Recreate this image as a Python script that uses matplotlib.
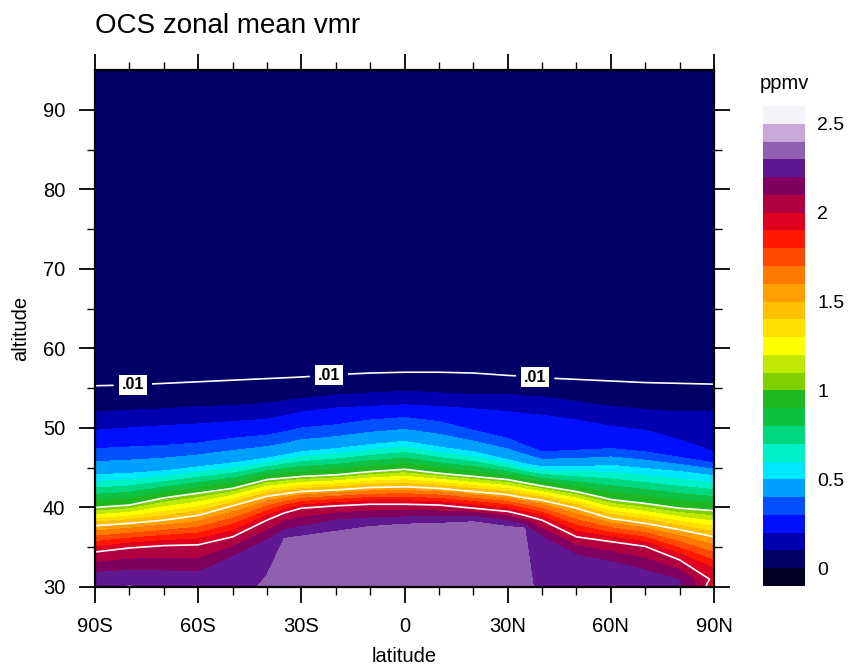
import numpy as np
import matplotlib
matplotlib.use("Agg")
import matplotlib.pyplot as plt
from matplotlib.colors import ListedColormap, BoundaryNorm

plt.rcParams['font.family'] = ['Liberation Sans', 'DejaVu Sans']

# latitude columns (deg, south negative)
lat = [-90, -80, -70, -60, -50, -40, -35, -30, -20, -10, 0, 10, 20, 30, 35, 40, 50, 60, 70, 80, 90]

# vmr (ppmv) at the 30 km floor
v_bot = [2.27, 2.31, 2.27, 2.28, 2.25, 2.32, 2.34, 2.37, 2.38, 2.38, 2.38, 2.38, 2.38, 2.37, 2.33, 2.27, 2.27, 2.26, 2.24, 2.22, 1.93]
# extra point just above the floor (altitude, vmr)
z_b = [30.9, 31.0, 31.0, 31.0, 32.0, 31.5, 36.1, 36.4, 37.0, 37.6, 37.9, 38.0, 38.2, 37.6, 37.4, 32.5, 32.0, 31.5, 31.0, 30.4, 30.5]
v_b = [2.24, 2.25, 2.24, 2.24, 2.23, 2.3, 2.3, 2.3, 2.3, 2.3, 2.3, 2.3, 2.3, 2.3, 2.3, 2.25, 2.24, 2.23, 2.22, 2.21, 1.95]
# altitude of the 2.2 ppmv level (last column stays below 2 ppmv)
z_22 = [31.8, 32.1, 32.0, 31.9, 33.8, 35.9, 37.2, 37.6, 38.4, 38.7, 38.8, 38.8, 38.9, 38.3, 37.9, 36.3, 34.0, 33.2, 32.1, 30.9, 31.0]
v_22 = [2.2] * 20 + [1.97]
# altitudes (km) of the other vmr levels
z_20 = [34.4, 34.9, 35.2, 35.3, 36.3, 38.4, 39.3, 39.9, 40.2, 40.4, 40.4, 40.3, 39.9, 39.5, 39.0, 38.4, 36.3, 35.7, 35.1, 33.4, 31.4]
z_15 = [37.7, 38.0, 38.4, 39.0, 40.2, 41.4, 41.7, 42.0, 42.2, 42.5, 42.6, 42.4, 42.0, 41.6, 41.2, 40.9, 39.9, 38.6, 38.0, 37.2, 36.3]
z_10 = [40.0, 40.3, 41.2, 41.8, 42.4, 43.5, 43.7, 43.9, 44.1, 44.5, 44.8, 44.3, 43.9, 43.5, 43.1, 42.7, 42.0, 41.0, 40.5, 39.9, 39.6]
z_05 = [44.1, 44.3, 44.6, 45.1, 45.6, 46.2, 46.6, 47.0, 47.4, 47.9, 48.3, 47.6, 47.0, 46.0, 45.5, 45.1, 45.1, 45.3, 44.9, 44.5, 44.0]
z_03 = [47.4, 47.6, 47.8, 48.1, 48.7, 49.1, 49.5, 50.0, 50.4, 51.0, 51.3, 50.8, 49.7, 48.7, 47.8, 47.0, 47.2, 47.4, 47.0, 46.3, 45.6]
z_02 = [49.7, 50.0, 50.3, 50.5, 50.8, 51.1, 51.5, 52.0, 52.5, 52.7, 52.9, 52.7, 52.4, 52.05, 51.8, 51.6, 51.0, 50.2, 49.7, 48.5, 47.0]
z_01 = [52.0, 52.2, 52.4, 52.7, 52.8, 53.1, 53.4, 53.7, 54.15, 54.4, 54.6, 54.4, 54.2, 54.2, 54.0, 53.9, 53.3, 52.7, 52.3, 52.0, 52.1]
z_001 = [55.3, 55.4, 55.6, 55.8, 56.0, 56.2, 56.3, 56.4, 56.7, 56.9, 57.0, 57.0, 56.9, 56.6, 56.5, 56.3, 56.1, 55.9, 55.7, 55.6, 55.5]
v_top = 0.001   # at the 95 km lid

levels = np.round(np.arange(0, 2.51, 0.1), 2)
line_levels = [0.01, 1.0, 1.5, 2.0]
colors = ['#000020', '#000066', '#0000b0', '#0010ff', '#0050ff', '#00a0ff', '#00e8ff',
          '#00f0c8', '#00d880', '#10c040', '#20b820', '#80d000', '#c0e800', '#ffff00',
          '#ffe000', '#ffc000', '#ffa000', '#ff7800', '#ff4800', '#ff1800', '#e00020',
          '#b00040', '#800060', '#601890', '#9060b0', '#c8a8d8', '#f5f3fa']

n = len(lat)
Y = np.array([np.full(n, 30.0), z_b, z_22, z_20, z_15, z_10, z_05, z_03, z_02, z_01, z_001,
              np.full(n, 95.0)])
Z = np.array([v_bot, v_b, v_22, np.full(n, 2.0), np.full(n, 1.5), np.full(n, 1.0),
              np.full(n, 0.5), np.full(n, 0.3), np.full(n, 0.2), np.full(n, 0.1),
              np.full(n, 0.01), np.full(n, v_top)])
X = np.tile(np.array(lat, dtype=float), (Y.shape[0], 1))

cmap = ListedColormap(colors[1:-1])
cmap.set_under(colors[0])
cmap.set_over(colors[-1])
norm = BoundaryNorm(levels, cmap.N)

fig = plt.figure(figsize=(8.49, 6.68), dpi=100)
ax = fig.add_axes([0.1119, 0.1213, 0.7291, 0.7739])

cf = ax.contourf(X, Y, Z, levels=levels, cmap=cmap, norm=norm, extend='both')
cs = ax.contour(X, Y, Z, levels=line_levels, colors='white', linewidths=1.2)
labs = ax.clabel(cs, levels=[0.01], fmt={0.01: '.01'}, fontsize=11.5, inline=True,
                 inline_spacing=8, manual=[(-79, 55.4), (-22, 56.7), (38, 56.4)])
for t in labs:
    t.set_rotation(0)
    t.set_color('black')
    t.set_fontweight('bold')
    t.set_bbox(dict(facecolor='white', edgecolor='none', pad=2))

ax.set_xlim(-90, 90)
ax.set_ylim(30, 95)
ax.set_xticks(range(-90, 91, 30))
ax.set_xticklabels(['90S', '60S', '30S', '0', '30N', '60N', '90N'])
ax.set_xticks(range(-90, 91, 10), minor=True)
ax.set_yticks(range(30, 91, 10))
ax.set_yticks(range(30, 95, 5), minor=True)
ax.tick_params(which='both', direction='out', top=True, right=True, labelsize=14.5)
ax.tick_params(which='major', length=11.5, width=1.3)
ax.tick_params(which='minor', length=5.8, width=1.0)
ax.tick_params(axis='x', which='major', pad=10)
ax.tick_params(axis='y', which='major', pad=10)
for s in ax.spines.values():
    s.set_linewidth(1.6)

ax.set_xlabel('latitude', fontsize=14.5, labelpad=8)
ax.set_ylabel('altitude', fontsize=14.5, labelpad=9)
fig.text(95 / 849, 1 - 33 / 668, 'OCS zonal mean vmr', fontsize=20, va='baseline', ha='left')

cax = fig.add_axes([763 / 849, 1 - 586 / 668, 42 / 849, 480 / 668])
cb = fig.colorbar(cf, cax=cax, extend='both', extendrect=True, extendfrac='auto')
cb.outline.set_visible(False)
cb.set_ticks([0, 0.5, 1, 1.5, 2, 2.5])
cb.set_ticklabels(['0', '0.5', '1', '1.5', '2', '2.5'])
cb.ax.minorticks_off()
cb.ax.tick_params(which='both', length=0, labelsize=14, pad=9)
cb.ax.set_title('ppmv', fontsize=14.5, pad=12)

fig.savefig('out.png', dpi=100)
